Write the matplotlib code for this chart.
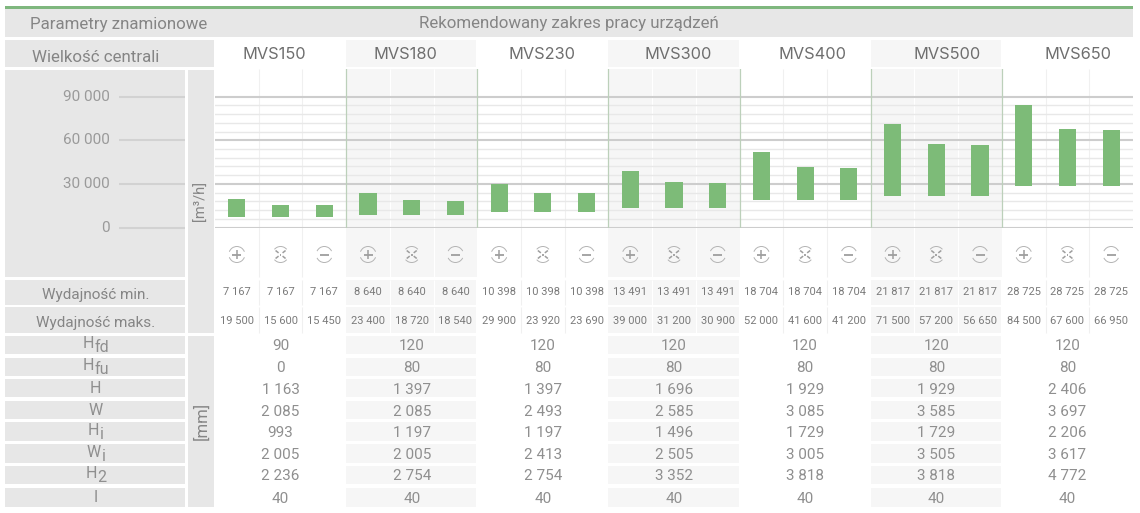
import matplotlib
matplotlib.use("Agg")
import matplotlib.pyplot as plt
from matplotlib.patches import Rectangle, Arc
from matplotlib.transforms import blended_transform_factory

plt.rcParams['font.family'] = ['Roboto', 'DejaVu Sans']

models = ["MVS150", "MVS180", "MVS230", "MVS300", "MVS400", "MVS500", "MVS650"]
flow_min = [7167, 7167, 7167, 8640, 8640, 8640, 10398, 10398, 10398, 13491, 13491, 13491,
            18704, 18704, 18704, 21817, 21817, 21817, 28725, 28725, 28725]
flow_max = [19500, 15600, 15450, 23400, 18720, 18540, 29900, 23920, 23690, 39000, 31200, 30900,
            52000, 41600, 41200, 71500, 57200, 56650, 84500, 67600, 66950]
major_ticks = [0, 30000, 60000, 90000]
minor_ticks = [6000, 12000, 18000, 24000, 36000, 42000, 48000, 54000, 66000, 72000, 78000, 84000]
icon_kinds = ["plus", "cross", "minus"]
row_labels = [("H", "fd"), ("H", "fu"), ("H", ""), ("W", ""), ("H", "i"), ("W", "i"), ("H", "2"), ("I", "")]
Hfd = [90, 120, 120, 120, 120, 120, 120]
Hfu = [0, 80, 80, 80, 80, 80, 80]
H = [1163, 1397, 1397, 1696, 1929, 1929, 2406]
W = [2085, 2085, 2493, 2585, 3085, 3585, 3697]
Hi = [993, 1197, 1197, 1496, 1729, 1729, 2206]
Wi = [2005, 2005, 2413, 2505, 3005, 3505, 3617]
H2 = [2236, 2754, 2754, 3352, 3818, 3818, 4772]
I = [40, 40, 40, 40, 40, 40, 40]
rows = [Hfd, Hfu, H, W, Hi, Wi, H2, I]

FW, FH = 1140, 513
GREY, SHADE, TXT = "#e7e7e7", "#f6f6f6", "#858585"
GREEN, GRID1, GRID2 = "#7dbb78", "#cdcdcd", "#e8e8e8"
X0, X1, Y_TOP, Y_ZERO = 215.0, 1133.0, 69.0, 227.5
PX_PER = 43.6 / 30000
GW = (X1 - X0) / 7
CW = GW / 3

fig = plt.figure(figsize=(FW / 100, FH / 100), dpi=100, facecolor="white")
bg = fig.add_axes([0, 0, 1, 1])
bg.set_xlim(0, FW); bg.set_ylim(FH, 0); bg.axis("off")
ch = fig.add_axes([X0 / FW, 1 - Y_ZERO / FH, (X1 - X0) / FW, (Y_ZERO - Y_TOP) / FH])
ch.patch.set_alpha(0)
ch.set_xlim(-0.5, 20.5); ch.set_ylim(0, (Y_ZERO - Y_TOP) / PX_PER)
for s in ch.spines.values():
    s.set_visible(False)
ch.set_xticks([]); ch.set_yticks([])


def rect(x0, y0, x1, y1, c, z=1):
    bg.add_patch(Rectangle((x0, y0), x1 - x0, y1 - y0, fc=c, ec="none", zorder=z))


def txt(x, y, s, size=11.5, c=TXT, ha="center", **kw):
    return bg.text(x, y, s, fontsize=size, color=c, ha=ha, va="center", zorder=5, **kw)


def fmt(v):
    return f"{v:,}".replace(",", " ")


# header bands
rect(5, 9, 1133, 37, GREY)
rect(5, 6, 1133, 8.5, "#7fb77e", 2)
txt(118.5, 24.5, "Parametry znamionowe", 12.2)
txt(569, 23.5, "Rekomendowany zakres pracy urządzeń", 12.2)
rect(5, 40, 214, 67, GREY)
txt(96, 57, "Wielkość centrali", 12.2)

# left panels
rect(5, 70, 185, 277, GREY)
rect(188, 70, 214, 333, GREY)
rect(188, 336, 214, 507, GREY)
txt(201, 201, "[m³/h]", 10.5, rotation=90)
txt(201, 421, "[mm]", 12, rotation=90)

# rows layout
big_rows = [(280, 305), (307, 333)]
small_rows = [(336, 354), (358, 376), (379, 397), (401, 419), (422, 441), (444, 463), (466, 484), (488, 507)]
txt(96, 295, "Wydajność min.", 11)
txt(96, 323, "Wydajność maks.", 11)
for (a, b) in big_rows:
    rect(5, a, 185, b, GREY)
renderer = fig.canvas.get_renderer()
for (a, b), (base, sub) in zip(small_rows, row_labels):
    rect(5, a, 185, b, GREY)
    ym = (a + b) / 2
    if sub:
        t1 = txt(0, ym - 1, base, 11.5, c="#8f8f8f", ha="left")
        t2 = txt(0, ym + 3, sub, 11.5, c="#8f8f8f", ha="left")
        w1 = t1.get_window_extent(renderer).width
        w2 = t2.get_window_extent(renderer).width
        x = 96 - (w1 + w2 + 1) / 2
        t1.set_x(x)
        t2.set_x(x + w1 + 1)
    else:
        txt(95.5, ym + 0.5, base, 11.5, c="#8f8f8f")

# shaded groups
for g in (1, 3, 5):
    gx0, gx1 = X0 + g * GW, X0 + (g + 1) * GW
    rect(gx0, 40, gx1 - 1, 67, SHADE)
    rect(gx0, 69, gx1, 277, SHADE)
    for (a, b) in big_rows + small_rows:
        rect(gx0, a, gx1 - 1, b, SHADE)

# cell separators
for i in range(1, 21):
    if i % 3:
        x = X0 + i * CW
        shaded = (i // 3) % 2 == 1
        c = "white" if shaded else "#f0f0f0"
        for (a, b) in [(69, 277)] + big_rows:
            bg.plot([x, x], [a, b], color=c, lw=0.8, zorder=2, solid_capstyle="butt")

# grid and bars through the chart axes
for v in minor_ticks:
    ch.axhline(v, color=GRID2, lw=1.0, zorder=1)
for v in major_ticks:
    ch.axhline(v, color=GRID1, lw=1.5, zorder=2)
for i in range(1, 7):
    ch.axvline(3 * i - 0.5, color="#bcd0ba", lw=0.9, zorder=2)
xs = list(range(len(flow_min)))
ch.bar(xs, [b - a for a, b in zip(flow_min, flow_max)], bottom=flow_min, width=0.39, color=GREEN, zorder=3)

# y labels in the left panel
tr = blended_transform_factory(bg.transData, ch.transData)
for v in major_ticks:
    bg.plot([119, 185], [v, v], transform=tr, color="#d2d2d2", lw=1.5, zorder=3, solid_capstyle="butt")
    bg.text(110, v, fmt(v), transform=tr, fontsize=11, color="#9a9a9a", ha="right", va="center", zorder=5)

# model names
name_x = [274, 405, 542, 678, 813, 947, 1078]
for x, m in zip(name_x, models):
    txt(x, 54.5, m, 11.8, c="#6e6e6e", family=["Inter", "DejaVu Sans"])


# icons
def icon(cx, cy, kind):
    c, lw, r = "#b4b4b4", 0.7, 8.0
    spans = {"plus": (20, 160), "cross": (40, 140), "minus": (25, 155)}
    a, b = spans[kind]
    bg.add_patch(Arc((cx, cy), 2 * r, 2 * r, theta1=a, theta2=b, ec=c, lw=lw, zorder=4))
    bg.add_patch(Arc((cx, cy), 2 * r, 2 * r, theta1=a + 180, theta2=b + 180, ec=c, lw=lw, zorder=4))
    d = "#9e9e9e"
    if kind in ("plus", "minus"):
        bg.plot([cx - 4.5, cx + 4.5], [cy, cy], color=d, lw=1.3, zorder=4, solid_capstyle="butt")
    if kind == "plus":
        bg.plot([cx, cx], [cy - 4.5, cy + 4.5], color=d, lw=1.1, zorder=4, solid_capstyle="butt")
    if kind == "cross":
        for sx in (-1, 1):
            for sy in (-1, 1):
                bg.plot([cx + 5 * sx, cx + 2 * sx], [cy + 4 * sy, cy + 1.6 * sy], color=d, lw=1.1, zorder=4,
                        solid_capstyle="butt")
        bg.plot([cx - 0.8, cx + 0.8], [cy, cy], color=d, lw=1.3, zorder=4, solid_capstyle="butt")


for i in xs:
    cx = X0 + (i + 0.5) * CW
    icon(cx, 254.5, icon_kinds[i % 3])
    txt(cx, 292, fmt(flow_min[i]), 8, c="#7a7a7a")
    txt(cx, 320.5, fmt(flow_max[i]), 8, c="#7a7a7a")

# dimension rows
for (a, b), row in zip(small_rows, rows):
    for g, v in enumerate(row):
        txt(X0 + (g + 0.5) * GW, (a + b) / 2 + 1.5, fmt(v), 11, c="#8f8f8f")

fig.savefig("out.png", dpi=100, facecolor="white")
